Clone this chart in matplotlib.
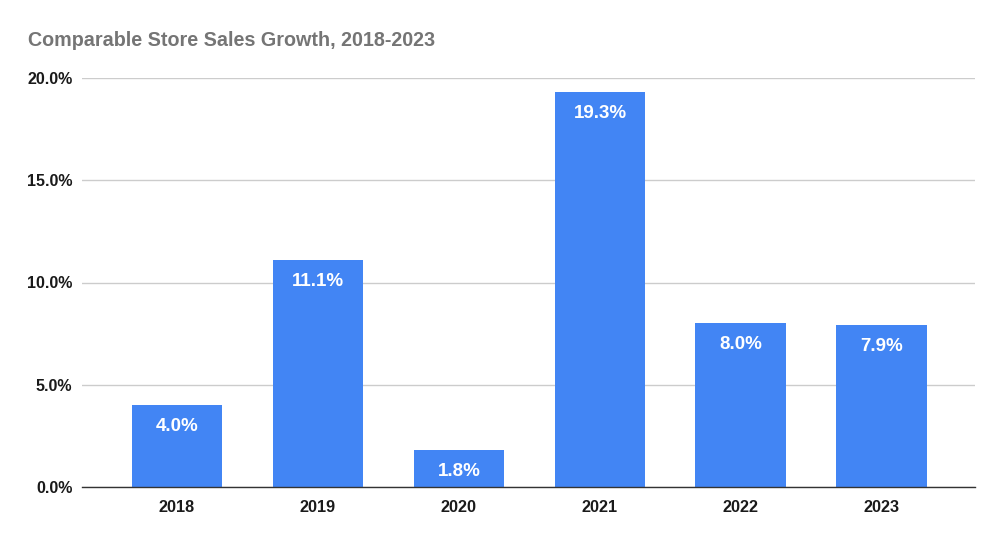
import matplotlib
matplotlib.use("Agg")
import matplotlib.pyplot as plt
from matplotlib.ticker import FuncFormatter

categories = ["2018", "2019", "2020", "2021", "2022", "2023"]
values = [4.0, 11.1, 1.8, 19.3, 8.0, 7.9]
yticks = [0, 5, 10, 15, 20]
title = "Comparable Store Sales Growth, 2018-2023"

plt.rcParams['font.family'] = ['Liberation Sans', 'DejaVu Sans']

fig = plt.figure(figsize=(10.03, 5.42), dpi=100)
W, H = 1003, 542
ax = fig.add_axes([82 / W, (H - 487) / H, (975 - 82) / W, (487 - 78) / H])

x = list(range(len(categories)))
bars = ax.bar(x, values, width=0.645, color="#4285F4", zorder=3)

for xi, v in zip(x, values):
    ax.annotate(f"{v:.1f}%", (xi, v), xytext=(0, -21), textcoords="offset pixels",
                ha="center", va="center", color="white", fontsize=13.5,
                fontweight="bold", zorder=4)

ax.set_xlim(-0.674, 5.66)
ax.set_ylim(0, 20)
ax.set_yticks(yticks)
ax.yaxis.set_major_formatter(FuncFormatter(lambda v, p: f"{v:.1f}%"))
ax.set_xticks(x)
ax.set_xticklabels(categories, fontsize=11.7, fontweight="bold", color="#1a1a1a")
for lab in ax.get_yticklabels():
    lab.set_fontsize(11.5)
    lab.set_fontweight("bold")
    lab.set_color("#1a1a1a")

ax.grid(axis="y", color="#cccccc", linewidth=1, zorder=0)
for s in ["top", "right", "left"]:
    ax.spines[s].set_visible(False)
ax.spines["bottom"].set_color("#333333")
ax.spines["bottom"].set_linewidth(1)
ax.spines["bottom"].set_zorder(5)
ax.tick_params(axis="both", length=0)
ax.tick_params(axis="x", pad=9)
ax.tick_params(axis="y", pad=7)

fig.text(28 / W, 1 - 40 / H, title, ha="left", va="center", fontsize=14.2,
         fontweight="bold", color="#757575")

fig.savefig("out.png", dpi=100)
